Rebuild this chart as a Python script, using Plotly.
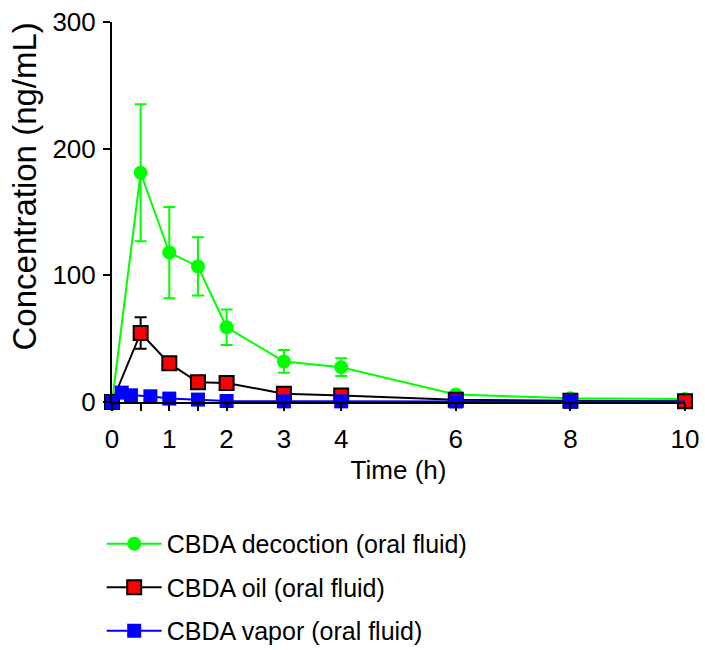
import plotly.graph_objects as go

# Sampling times (h) and mean concentrations (ng/mL) with SD
time_decoction = [0, 0.5, 1, 1.5, 2, 3, 4, 6, 8, 10]
conc_decoction = [0, 181, 118, 107, 59, 32, 27.5, 6, 3, 2.3]
sd_decoction = [0, 54, 36, 23, 14, 9, 7, 1.5, 1, 0.5]

time_oil = [0, 0.5, 1, 1.5, 2, 3, 4, 6, 8, 10]
conc_oil = [0, 54.5, 30.5, 15.5, 15, 6.6, 5.2, 1.8, 1.0, 0.6]
sd_oil = [0, 12.5, 3.5, 2, 2, 1, 1, 0.5, 0.3, 0.2]

time_vapor = [0, 0.17, 0.33, 0.67, 1, 1.5, 2, 3, 4, 6, 8, 10]
conc_vapor = [0, 7.4, 5.3, 4.5, 2.7, 1.9, 0.8, 0.5, 0.5, 0.4, 0.4, 0.3]

x_tick_vals = [0, 0.5, 1, 1.5, 2, 3, 4, 6, 8, 10]
x_tick_text = ["0", "", "1", "", "2", "3", "4", "6", "8", "10"]
y_tick_vals = [0, 100, 200, 300]

FONT = "Arial, Liberation Sans, sans-serif"
BLUE = "#0000ff"

fig = go.Figure()

fig.add_trace(go.Scatter(
    x=time_decoction, y=conc_decoction,
    name="CBDA decoction (oral fluid)",
    legendgroup="a",
    mode="lines+markers",
    line=dict(color="#00ff00", width=2),
    marker=dict(symbol="circle", size=14, color="#00ff00"),
    error_y=dict(type="data", array=sd_decoction, color="#00ff00",
                 thickness=2, width=6),
    cliponaxis=False,
))

fig.add_trace(go.Scatter(
    x=time_oil, y=conc_oil,
    name="CBDA oil (oral fluid)",
    legendgroup="b",
    mode="lines+markers",
    line=dict(color="black", width=2),
    marker=dict(symbol="square", size=14, color="#ff0000",
                line=dict(color="black", width=2)),
    error_y=dict(type="data", array=sd_oil, color="black",
                 thickness=2, width=6),
    cliponaxis=False,
))

# vapor: markers up to 8 h, final 8-10 h segment drawn as line only
fig.add_trace(go.Scatter(
    x=time_vapor[:-1], y=conc_vapor[:-1],
    name="CBDA vapor (oral fluid)",
    legendgroup="c",
    mode="lines+markers",
    line=dict(color=BLUE, width=2),
    marker=dict(symbol="square", size=14, color=BLUE),
    cliponaxis=False,
))
fig.add_trace(go.Scatter(
    x=time_vapor[-2:], y=conc_vapor[-2:],
    legendgroup="c", showlegend=False,
    mode="lines",
    line=dict(color=BLUE, width=2),
    cliponaxis=False,
))

fig.update_layout(
    width=705, height=650,
    margin=dict(l=112, r=20, t=22, b=248, autoexpand=False),
    plot_bgcolor="white",
    paper_bgcolor="white",
    font=dict(family=FONT, size=25, color="black"),
    showlegend=True,
    legend=dict(
        x=-0.018, y=-0.313, xanchor="left", yanchor="top",
        font=dict(family=FONT, size=25, color="black"),
        tracegroupgap=8,
        itemwidth=55,
        bgcolor="rgba(0,0,0,0)",
    ),
    annotations=[dict(
        text="Concentration (ng/mL)",
        xref="paper", yref="paper", x=-0.153, y=0.568,
        xanchor="center", yanchor="middle", textangle=-90,
        showarrow=False, font=dict(family=FONT, size=33, color="black"),
    )],
)

fig.update_xaxes(
    range=[0, 10],
    tickmode="array", tickvals=x_tick_vals, ticktext=x_tick_text,
    ticks="outside", ticklen=7, tickwidth=2, tickcolor="black",
    showline=True, linewidth=2, linecolor="black",
    showgrid=False, zeroline=False,
    tickfont=dict(family=FONT, size=26),
    ticklabelstandoff=6,
    title=dict(text="Time (h)", font=dict(family=FONT, size=26), standoff=8),
)

fig.update_yaxes(
    range=[0, 300],
    tickmode="array", tickvals=y_tick_vals,
    ticks="outside", ticklen=7, tickwidth=2, tickcolor="black",
    showline=True, linewidth=2, linecolor="black",
    showgrid=False, zeroline=False,
    tickfont=dict(family=FONT, size=26),
    ticklabelstandoff=2,
)

fig.write_html("out.html")
